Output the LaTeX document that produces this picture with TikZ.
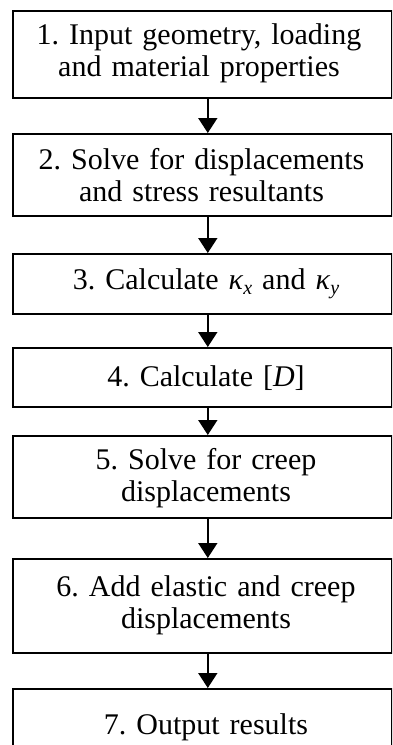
\documentclass[tikz,border=0pt]{standalone}
\usepackage{fontspec}
\setmainfont{Liberation Serif}
\usetikzlibrary{arrows.meta}
\newcommand\kapsub[1]{\textit{κ}\raisebox{-0.35ex}{\fontsize{20}{20}\selectfont\itshape #1}}
\tikzset{
  stepbox/.style={draw, line width=1.6pt, rectangle, inner sep=0pt},
  steptext/.style={text width=375pt, align=center, inner sep=0pt,
     font=\fontsize{30}{32}\selectfont\frenchspacing},
  flow/.style={line width=1.8pt, -{Triangle[width=19pt,length=15pt]}}
}
\begin{document}
\begin{tikzpicture}[x=1pt,y=-1pt]
\useasboundingbox (0,0) rectangle (392,745);
\clip (0,0) rectangle (392,745);
% boxes
\node[stepbox, minimum width=379pt, minimum height=87pt, anchor=north west] (b1) at (12,10) {};
\node[stepbox, minimum width=379pt, minimum height=82pt, anchor=north west] (b2) at (12,133) {};
\node[stepbox, minimum width=379pt, minimum height=60pt, anchor=north west] (b3) at (12,253) {};
\node[stepbox, minimum width=379pt, minimum height=59pt, anchor=north west] (b4) at (12,347) {};
\node[stepbox, minimum width=379pt, minimum height=82pt, anchor=north west] (b5) at (12,435) {};
\node[stepbox, minimum width=379pt, minimum height=94pt, anchor=north west] (b6) at (12,558) {};
\node[stepbox, minimum width=379pt, minimum height=78pt, anchor=north west] (b7) at (12,688) {};
% texts
\node[steptext] (t1) at (199,53) {1. Input geometry, loading\\and material properties};
\node[steptext] (t2) at (201.5,175) {2. Solve for displacements\\and stress resultants};
\node[steptext] (t3) at (206,284) {3. Calculate \kapsub{x} and \kapsub{y}};
\node[steptext] (t4) at (206,378) {4. Calculate [\textit{D}]};
\node[steptext] (t5) at (206,478) {5. Solve for creep\\displacements};
\node[steptext] (t6) at (206,605) {6. Add elastic and creep\\displacements};
\node[steptext] (t7) at (206,727) {7. Output results};
% arrows
\foreach \a/\b in {b1/b2,b2/b3,b3/b4,b4/b5,b5/b6,b6/b7}{
  \draw[flow] ([xshift=5.5pt]\a.south) -- ([xshift=5.5pt]\b.north);
}
\end{tikzpicture}
\end{document}
